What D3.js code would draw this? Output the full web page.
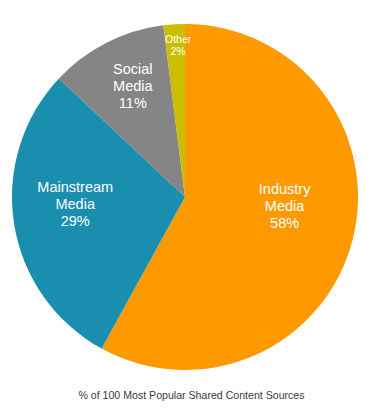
<!DOCTYPE html>
<html><head><meta charset="utf-8">
<script src="https://cdn.jsdelivr.net/npm/d3@7"></script>
<style>html,body{margin:0;padding:0;background:#fff;}svg{display:block;}</style>
</head><body>
<svg id="chart" width="380" height="415"></svg>
<script>
const categories = [["Industry","Media"],["Mainstream","Media"],["Social","Media"],["Other"]];
const values = [58, 29, 11, 2];
const colors = ["#FF9900", "#1A8EAE", "#858585", "#CBBE00"];
const caption = "% of 100 Most Popular Shared Content Sources";

const svg = d3.select("#chart");
const cx = 185, cy = 197, R = 173;
const g = svg.append("g").attr("transform", `translate(${cx},${cy})`);
const pie = d3.pie().sort(null).value(d => d).startAngle(0).endAngle(2*Math.PI);
const arcs = pie(values);
const arc = d3.arc().innerRadius(0).outerRadius(R);
g.selectAll("path").data(arcs).enter().append("path")
  .attr("d", arc).attr("fill", (d,i) => colors[i]);

// label placement (layout, not data)
const labelR = [100, 110, 123, 152];
const labelAngle = [95.1, 266.4, 334.9, 357.4];
const fontSize = [14.5, 14.5, 14.5, 10.5];
const lineH = [17, 17, 17, 12];
arcs.forEach((d, i) => {
  const a = labelAngle[i] * Math.PI / 180;
  const x = labelR[i] * Math.sin(a), y = -labelR[i] * Math.cos(a);
  const lines = categories[i].concat([values[i] + "%"]);
  const n = lines.length;
  const t = g.append("text").attr("text-anchor", "middle")
    .attr("font-family", "Liberation Sans, Arial, Helvetica, sans-serif")
    .attr("font-size", fontSize[i]).attr("fill", "#fff");
  lines.forEach((l, k) => {
    t.append("tspan").attr("x", x)
      .attr("y", y + (k - (n-1)/2) * lineH[i])
      .attr("dy", "0.35em").text(l);
  });
});

svg.append("text").attr("x", 191.5).attr("y", 395).attr("text-anchor", "middle")
  .attr("dy", "0.35em")
  .attr("font-family", "Liberation Sans, Arial, Helvetica, sans-serif")
  .attr("font-size", 10.6).attr("fill", "#3a3a3a").text(caption);
</script>
</body></html>
